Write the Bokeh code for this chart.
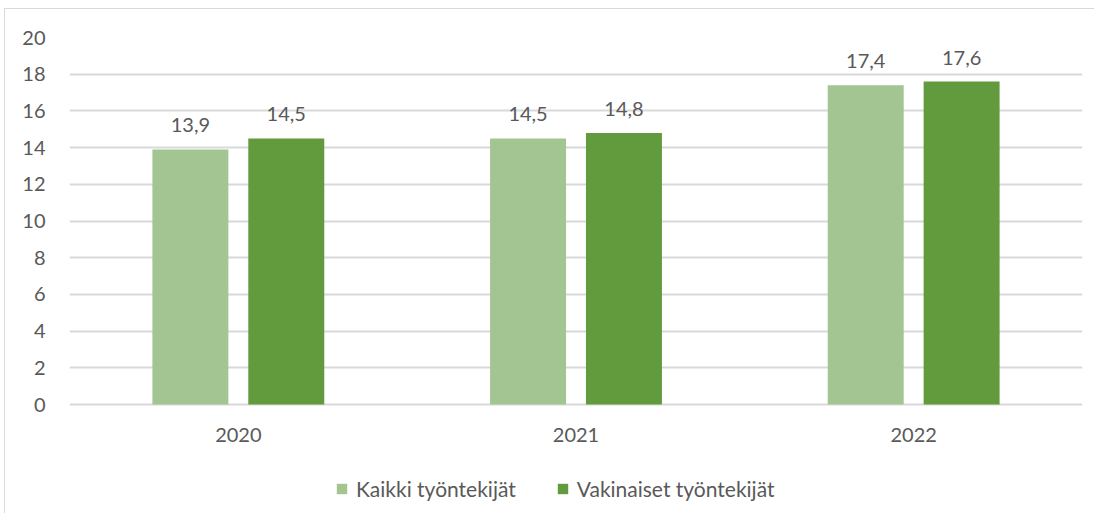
from bokeh.plotting import figure
from bokeh.models import ColumnDataSource, Range1d, FactorRange, Legend, LegendItem, FixedTicker
from bokeh.transform import dodge
from bokeh.core.properties import value
from bokeh.embed import file_html
from bokeh.resources import INLINE

years = ["2020", "2021", "2022"]
kaikki = [13.9, 14.5, 17.4]
vakinaiset = [14.5, 14.8, 17.6]
series_names = ["Kaikki työntekijät", "Vakinaiset työntekijät"]
y_ticks = [0, 2, 4, 6, 8, 10, 12, 14, 16, 18, 20]

LIGHT = "#A3C592"
DARK = "#629A3E"
TEXT = "#595959"
FONT = "Lato"
FS = "20px"

# layout (pixels)
W, H = 1090, 505
TOP, LEFT, RIGHT = 28, 64, 13
AXIS_PX = 367          # height of the 0..20 value band
BELOW_PX = H - TOP - AXIS_PX   # room below zero for year labels + legend
Y_MAX = 20
y_min = -Y_MAX * BELOW_PX / AXIS_PX

src = ColumnDataSource(dict(
    year=years,
    zero=[0] * len(years),
    kaikki=kaikki,
    vakinaiset=vakinaiset,
    klab=[f"{v:.1f}".replace(".", ",") for v in kaikki],
    vlab=[f"{v:.1f}".replace(".", ",") for v in vakinaiset],
))

p = figure(
    x_range=FactorRange(factors=years, range_padding=0),
    y_range=Range1d(y_min, Y_MAX),
    width=W, height=H,
    output_backend="svg", toolbar_location=None,
    min_border_left=LEFT, min_border_right=RIGHT, min_border_top=TOP, min_border_bottom=0,
    background_fill_color="white", border_fill_color="white",
)
p.styles = {"margin-left": "4px", "margin-top": "8px",
            "border-left": "1px solid #D9D9D9", "border-top": "1px solid #D9D9D9"}
p.outline_line_color = None
p.xgrid.grid_line_color = None
p.ygrid.grid_line_color = "#D9D9D9"
p.ygrid.grid_line_width = 2
p.xaxis.visible = False

p.yaxis.ticker = FixedTicker(ticks=y_ticks)
ax = p.yaxis[0]
ax.axis_line_color = None
ax.major_tick_line_color = None
ax.minor_tick_line_color = None
ax.major_label_text_font = FONT
ax.major_label_text_font_size = FS
ax.major_label_text_color = TEXT
ax.major_label_standoff = 18

bw = 0.225
off = 0.142
r1 = p.vbar(x=dodge("year", -off, range=p.x_range), top="kaikki", width=bw, source=src,
            fill_color=LIGHT, line_color=None)
r2 = p.vbar(x=dodge("year", off, range=p.x_range), top="vakinaiset", width=bw, source=src,
            fill_color=DARK, line_color=None)

p.text(x=dodge("year", -off, range=p.x_range), y="kaikki", text="klab", source=src,
       text_align="center", text_baseline="alphabetic", y_offset=-24,
       text_font=value(FONT), text_font_size=FS, text_color=TEXT)
p.text(x=dodge("year", off, range=p.x_range), y="vakinaiset", text="vlab", source=src,
       text_align="center", text_baseline="alphabetic", y_offset=-24,
       text_font=value(FONT), text_font_size=FS, text_color=TEXT)

# category (year) labels under the bars
p.text(x="year", y="zero", text="year", source=src,
       text_align="center", text_baseline="top", y_offset=23,
       text_font=value(FONT), text_font_size=FS, text_color=TEXT)

legend = Legend(items=[LegendItem(label=series_names[0], renderers=[r1]),
                       LegendItem(label=series_names[1], renderers=[r2])],
                orientation="horizontal", location=(266, 13),
                glyph_width=13, glyph_height=13, label_standoff=8, spacing=40,
                label_text_font=FONT, label_text_font_size="21px", label_text_color=TEXT,
                border_line_color=None, background_fill_alpha=0, margin=0, padding=0)
p.add_layout(legend, "center")

open("out.html", "w").write(file_html(p, INLINE))
